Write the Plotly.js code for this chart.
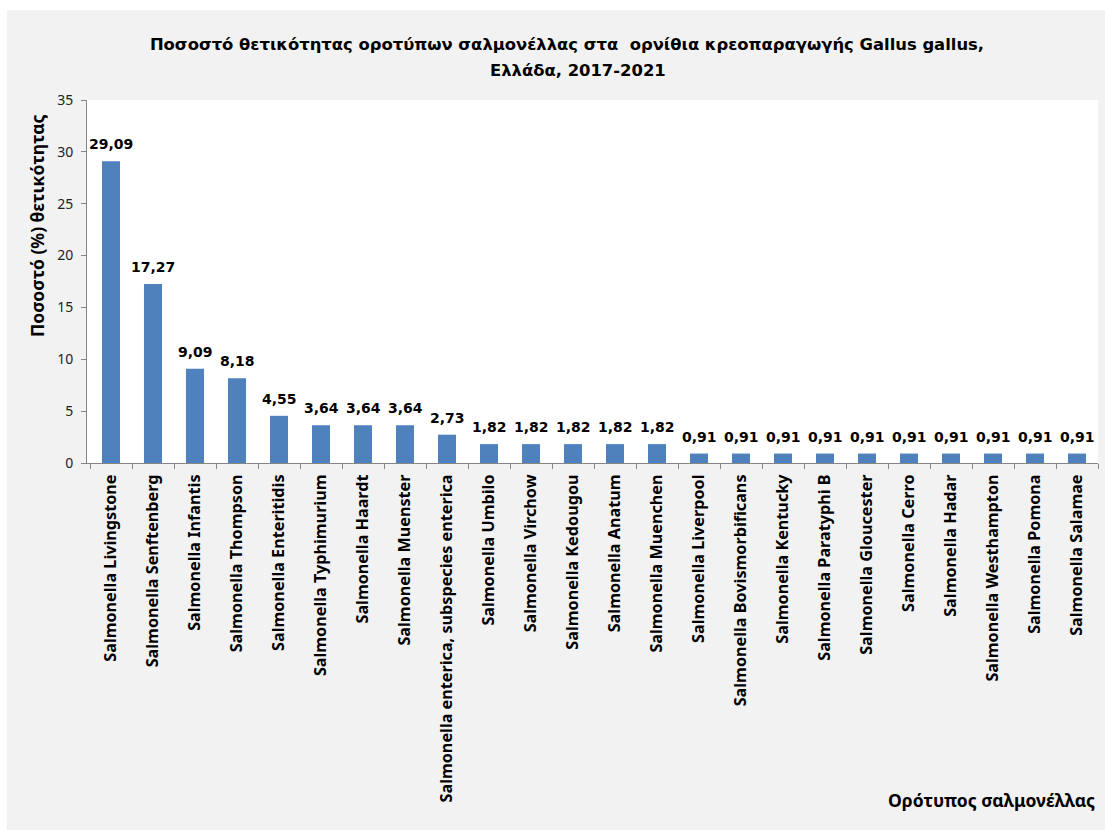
<!DOCTYPE html>
<html>
<head>
<meta charset="utf-8">
<script src="https://cdn.plot.ly/plotly-3.0.1.min.js"></script>
<style>
html,body{margin:0;padding:0;background:#ffffff;}
#chart{position:absolute;left:7px;top:10px;width:1098px;height:820px;}
</style>
</head>
<body>
<div id="chart"></div>
<script>
const serotypes = [
  "Salmonella Livingstone",
  "Salmonella Senftenberg",
  "Salmonella Infantis",
  "Salmonella Thompson",
  "Salmonella Enteritidis",
  "Salmonella Typhimurium",
  "Salmonella Haardt",
  "Salmonella Muenster",
  "Salmonella enterica, subspecies enterica",
  "Salmonella Umbilo",
  "Salmonella Virchow",
  "Salmonella Kedougou",
  "Salmonella Anatum",
  "Salmonella Muenchen",
  "Salmonella Liverpool",
  "Salmonella Bovismorbificans",
  "Salmonella Kentucky",
  "Salmonella Paratyphi B",
  "Salmonella Gloucester",
  "Salmonella Cerro",
  "Salmonella Hadar",
  "Salmonella Westhampton",
  "Salmonella Pomona",
  "Salmonella Salamae"
];
const positivity = [29.09, 17.27, 9.09, 8.18, 4.55, 3.64, 3.64, 3.64, 2.73, 1.82, 1.82, 1.82, 1.82, 1.82,
  0.91, 0.91, 0.91, 0.91, 0.91, 0.91, 0.91, 0.91, 0.91, 0.91];
const yTicks = [0, 5, 10, 15, 20, 25, 30, 35];

const titleLine1 = "Ποσοστό θετικότητας οροτύπων σαλμονέλλας στα  ορνίθια κρεοπαραγωγής Gallus gallus,";
const titleLine2 = "Ελλάδα, 2017-2021";
const yTitle = "Ποσοστό (%) θετικότητας";
const xTitle = "Ορότυπος σαλμονέλλας";

const FONT = "Noto Sans, Open Sans, sans-serif";
const TITLE_FONT = "DejaVu Sans, Verdana, sans-serif";

const trace = {
  type: "bar",
  x: serotypes,
  y: positivity,
  marker: {color: "#4F81BD"},
  hoverinfo: "x+y"
};

const valueLabels = serotypes.map((s, i) => ({
  x: s,
  y: positivity[i],
  xref: "x", yref: "y",
  text: positivity[i].toFixed(2).replace(".", ","),
  showarrow: false,
  xanchor: "center",
  yanchor: "bottom",
  yshift: 7,
  font: {family: TITLE_FONT, size: 14, color: "#000000", weight: "bold"}
}));

const layout = {
  width: 1098,
  height: 820,
  paper_bgcolor: "#f2f2f2",
  plot_bgcolor: "#ffffff",
  separators: ",.",
  showlegend: false,
  bargap: 0.57,
  margin: {l: 80, r: 7, t: 90, b: 367, pad: 0},
  title: {
    text: titleLine1,
    x: 0.51, xanchor: "center",
    yref: "container", y: 0.9585, yanchor: "middle",
    font: {family: TITLE_FONT, size: 16.4, color: "#000000", weight: "bold"}
  },
  xaxis: {
    type: "category",
    tickangle: -90,
    tickson: "boundaries",
    ticks: "outside",
    ticklen: 5,
    tickcolor: "#868686",
    ticklabelstandoff: 4,
    showline: true,
    linecolor: "#868686",
    linewidth: 1,
    showgrid: false,
    zeroline: false,
    tickfont: {family: FONT, size: 16.2, color: "#000000", weight: "bold"},
    fixedrange: true
  },
  yaxis: {
    range: [0, 35],
    tickvals: yTicks,
    ticks: "outside",
    ticklen: 5,
    tickcolor: "#868686",
    ticklabelstandoff: 5,
    showline: true,
    linecolor: "#868686",
    linewidth: 1,
    showgrid: false,
    zeroline: false,
    tickfont: {family: FONT, size: 14, color: "#222222"},
    fixedrange: true
  },
  annotations: [
    {
      text: titleLine2,
      xref: "paper", yref: "paper",
      x: 0.4857, y: 1.0799,
      xanchor: "center", yanchor: "middle",
      showarrow: false,
      font: {family: TITLE_FONT, size: 16.4, color: "#000000", weight: "bold"}
    },
    {
      text: yTitle,
      xref: "paper", yref: "paper",
      x: -0.0495, y: 0.653,
      xanchor: "center", yanchor: "middle",
      textangle: -90,
      showarrow: false,
      font: {family: FONT, size: 17.5, color: "#000000", weight: "bold"}
    },
    {
      text: xTitle,
      xref: "paper", yref: "paper",
      x: 0.999, y: -0.928,
      xanchor: "right", yanchor: "middle",
      showarrow: false,
      font: {family: FONT, size: 17.5, color: "#000000", weight: "bold"}
    }
  ].concat(valueLabels)
};

Plotly.newPlot("chart", [trace], layout, {displayModeBar: false, staticPlot: true});
</script>
</body>
</html>
